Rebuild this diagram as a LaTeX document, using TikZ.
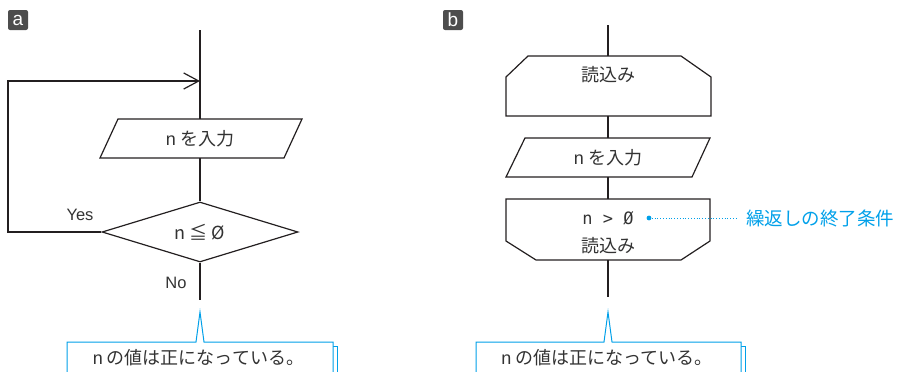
\documentclass[tikz,border=0pt]{standalone}
\usepackage{fontspec}
\setmainfont{Noto Sans CJK JP}
\newfontfamily\lat{Liberation Sans}
\newfontfamily\mono{DejaVu Sans Mono}
\usetikzlibrary{shapes.geometric,arrows.meta}
\definecolor{ln}{HTML}{231F20}
\definecolor{tx}{HTML}{333333}
\definecolor{cy}{HTML}{00A0E9}
\definecolor{tagbg}{HTML}{4D4D4D}
\tikzset{
  flow/.style={draw=ln, line width=1.2pt, line join=miter},
  conn/.style={draw=ln, line width=1.2pt},
  txt/.style={text=tx, inner sep=0pt, font=\fontsize{18}{20}\selectfont},
  lbl/.style={text=tx, inner sep=0pt, font=\lat\fontsize{16.5}{18}\selectfont},
  tagbox/.style={fill=tagbg, rounded corners=2pt, minimum width=20pt, minimum height=20pt,
    inner sep=0pt, text=white, font=\lat\fontsize{19}{19}\selectfont},
  callout/.style={draw=cy, fill=white, line width=1pt},
}
\begin{document}
\begin{tikzpicture}[x=1pt,y=-1pt]
\useasboundingbox (0,0) rectangle (897,372);

% ---------- panel a ----------
\node[tagbox] (taga) at (18,20) {a};
\coordinate (atop) at (200,30);
% input parallelogram
\coordinate (ainN) at (200,119);
\coordinate (ainS) at (200,158);
\draw[flow] (118,119) -- (302,119) -- (284,158) -- (100,158) -- cycle;
\node[txt] (aintxt) at (200,139) {{\lat n} を入力};
% decision
\node[flow, diamond, aspect=3, inner sep=0pt, minimum width=196pt, minimum height=60pt] (adia) at (200,232) {};
\node[txt] (adiatxt) at (200,232) {n ≦ Ø};
\coordinate (aloopb) at (8,232);
\coordinate (aloopt) at (8,81);
\coordinate (ajoin) at (200,81);
\coordinate (aout) at (200,300);
\node[lbl] (ayes) at (80,215) {Yes};
\node[lbl] (ano) at (176,283) {No};

\draw[conn] (atop) -- (ainN);
\draw[conn] (ainS) -- (adia.north);
\draw[conn] (adia.south) -- (aout);
\draw[conn, -{Straight Barb[length=15pt, width=16pt, line width=1.2pt]}] (adia.west) -- (aloopb) -- (aloopt) -- (ajoin);

% callout a
\draw[draw=cy, line width=1pt] (71,346) rectangle (337,380);
\coordinate (acalltip) at (200,312);
\path[callout] (67,342) -- (196,342) -- (acalltip) -- (204,342) -- (333,342) -- (333,380) -- (67,380) -- cycle;
\node[txt] (acalltxt) at (198.5,358) {{\lat n} の値は正になっている。};

% ---------- panel b ----------
\node[tagbox] (tagb) at (453,20) {b};
\coordinate (btop) at (608,25);
% loop start
\coordinate (bstartN) at (608,56);
\coordinate (bstartS) at (608,116);
\draw[flow] (506,116) -- (506,77) -- (528,56) -- (681,56) -- (711,77) -- (711,116) -- cycle;
\node[txt] (bstarttxt) at (608,75) {読込み};
% input
\coordinate (binN) at (608,138);
\coordinate (binS) at (608,177);
\draw[flow] (525,138) -- (710,138) -- (692,177) -- (506,177) -- cycle;
\node[txt] (bintxt) at (608,158) {{\lat n} を入力};
% loop end
\coordinate (bendN) at (608,199);
\coordinate (bendS) at (608,260);
\draw[flow] (506,199) -- (710,199) -- (710,241) -- (681,260) -- (536,260) -- (506,241) -- cycle;
\node[text=tx, inner sep=0pt, font=\mono\fontsize{17}{18}\selectfont] (bcond) at (608,218) {n > Ø};
\node[txt] (bendtxt) at (608,246) {読込み};
\coordinate (bout) at (608,297);

\draw[conn] (btop) -- (bstartN);
\draw[conn] (bstartS) -- (binN);
\draw[conn] (binS) -- (bendN);
\draw[conn] (bendS) -- (bout);

% note
\coordinate (bdot) at (649,218);
\node[anchor=west, inner sep=0pt, text=cy, font=\fontsize{18.5}{20}\selectfont] (bnote) at (746,218) {繰返しの終了条件};
\coordinate (bnoteend) at (737,218);
\fill[cy] (bdot) circle (2.4pt);
\draw[cy, line width=0.8pt, dotted] (bdot) -- (bnoteend);

% callout b
\draw[draw=cy, line width=1pt] (480,346) rectangle (745,380);
\coordinate (bcalltip) at (608,312);
\path[callout] (476,342) -- (604,342) -- (bcalltip) -- (612,342) -- (741,342) -- (741,380) -- (476,380) -- cycle;
\node[txt] (bcalltxt) at (607,358) {{\lat n} の値は正になっている。};
\end{tikzpicture}
\end{document}
